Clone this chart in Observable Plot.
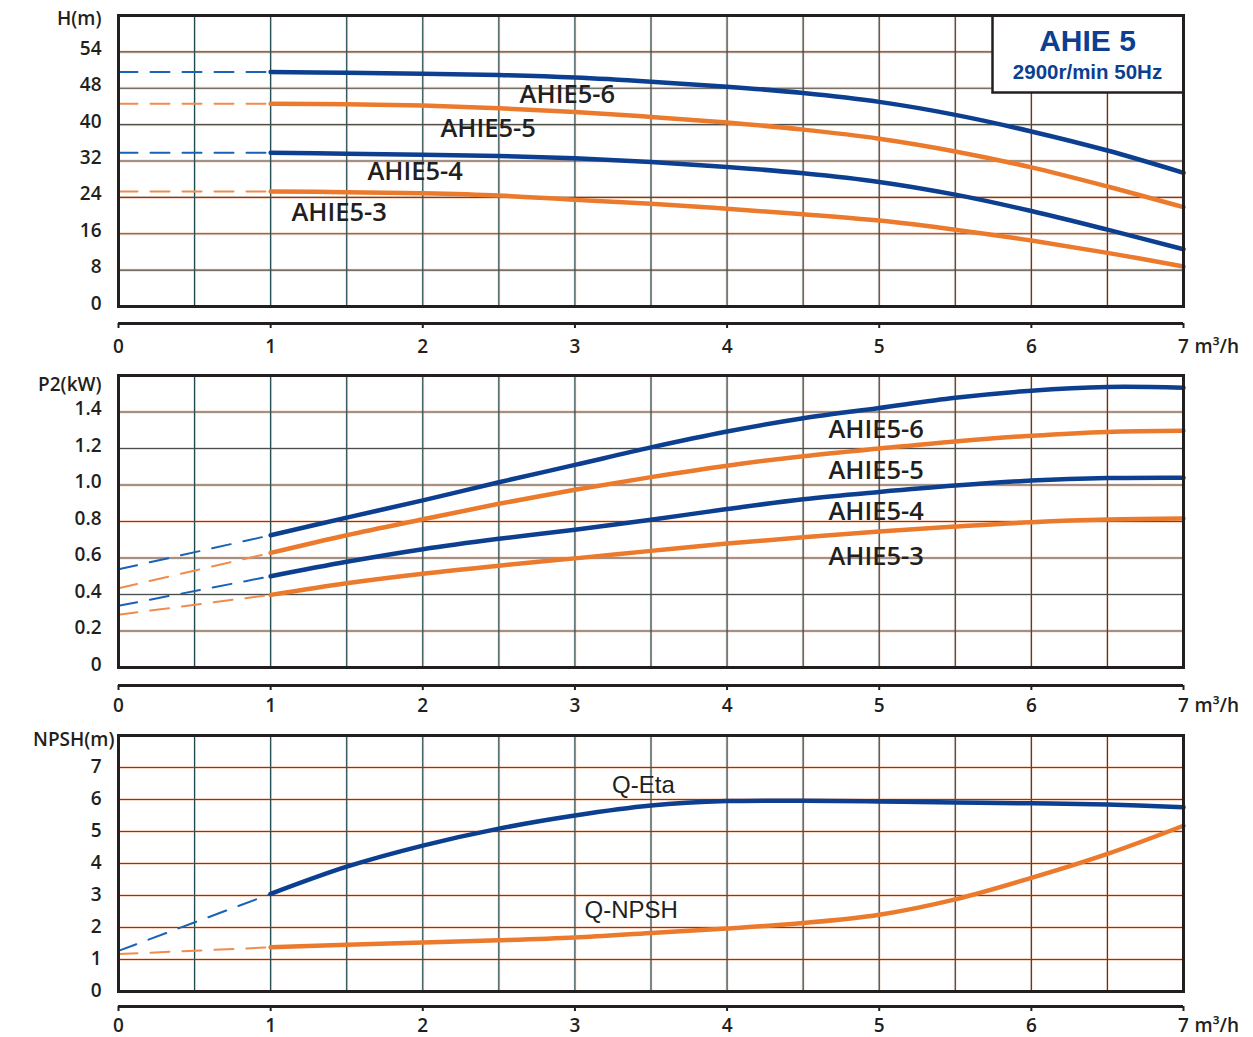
<!DOCTYPE html>
<html><head><meta charset="utf-8">
<script src="https://cdn.jsdelivr.net/npm/d3@7"></script>
<script src="https://cdn.jsdelivr.net/npm/@observablehq/plot@0.6"></script>
<style>
body{margin:0;background:#fff;}
#chart{width:1253px;height:1037px;position:relative;overflow:hidden;}
#chart svg{display:block;}
</style></head><body><div id="chart"></div>
<script>
// ---------- data ----------
const flow = [1, 1.5, 2, 2.5, 3, 3.5, 4, 4.5, 5, 5.5, 6, 6.5, 7];   // m³/h (solid part)
const flowDash = [0, 1];                                              // dashed extrapolation
const xTicks = [0, 1, 2, 3, 4, 5, 6, 7];
const xGrid = [0.5, 1, 1.5, 2, 2.5, 3, 3.5, 4, 4.5, 5, 5.5, 6, 6.5];

// Head H(m)
const headNames = ["AHIE5-6", "AHIE5-5", "AHIE5-4", "AHIE5-3"];
const headAtZero = [51.6, 44.6, 33.8, 25.3];
const head6 = [51.6, 51.4, 51.2, 50.9, 50.35, 49.45, 48.35, 46.95, 45.0, 42.15, 38.5, 34.3, 29.4];
const head5 = [44.6, 44.5, 44.2, 43.6, 42.8, 41.7, 40.45, 38.9, 36.9, 34.1, 30.6, 26.4, 21.85];
const head4 = [33.8, 33.6, 33.4, 33.1, 32.6, 31.8, 30.7, 29.3, 27.4, 24.6, 21.0, 16.9, 12.6];
const head3 = [25.3, 25.15, 24.9, 24.4, 23.45, 22.6, 21.5, 20.3, 18.9, 16.9, 14.5, 11.8, 8.8];
const headTicks = [0, 8, 16, 24, 32, 40, 48, 56];
const headTickLabels = ["0", "8", "16", "24", "32", "40", "48", "54"];
const headLabelX = [2.95, 2.43, 1.95, 1.45];
const headLabelY = [46.5, 39.0, 29.7, 20.5];

// Power P2(kW)
const powerAtZero = [0.538, 0.434, 0.338, 0.289];
const power6 = [0.725, 0.821, 0.916, 1.015, 1.11, 1.206, 1.293, 1.366, 1.422, 1.478, 1.517, 1.537, 1.533];
const power5 = [0.628, 0.725, 0.812, 0.897, 0.974, 1.043, 1.106, 1.158, 1.2, 1.239, 1.27, 1.291, 1.297];
const power4 = [0.5, 0.579, 0.648, 0.705, 0.755, 0.81, 0.868, 0.922, 0.962, 0.997, 1.024, 1.038, 1.04];
const power3 = [0.398, 0.462, 0.514, 0.558, 0.598, 0.639, 0.679, 0.714, 0.745, 0.772, 0.796, 0.811, 0.816];
const powerTicks = [0, 0.2, 0.4, 0.6, 0.8, 1.0, 1.2, 1.4];
const powerTickLabels = ["0", "0.2", "0.4", "0.6", "0.8", "1.0", "1.2", "1.4"];
const powerLabelX = [4.98, 4.98, 4.98, 4.98];
const powerLabelY = [1.304, 1.08, 0.855, 0.609];

// NPSH / Eta
const npshNames = ["Q-Eta", "Q-NPSH"];
const npshAtZero = [1.27, 1.17];
const eta = [3.05, 3.9, 4.56, 5.09, 5.5, 5.81, 5.95, 5.96, 5.94, 5.91, 5.88, 5.84, 5.76];
const npsh = [1.38, 1.46, 1.53, 1.6, 1.69, 1.83, 1.97, 2.14, 2.4, 2.88, 3.55, 4.3, 5.18];
const npshTicks = [0, 1, 2, 3, 4, 5, 6, 7];
const npshTickLabels = ["0", "1", "2", "3", "4", "5", "6", "7"];
const npshLabelX = [3.45, 3.37];
const npshLabelY = [6.44, 2.53];

// ---------- style ----------
const BLUE = "#0c3f90", ORANGE = "#ec7a2d";
const BLUE_D = "#1a62b3", ORANGE_D = "#f08c4e";
const INK = "#231f20";
const TICKFONT = "'Open Sans', sans-serif";
const ARIAL = "'Liberation Sans', Arial, sans-serif";

function panel(o) {
  const solid = [], dash = [];
  o.series.forEach((s, k) => {
    flow.forEach((x, i) => solid.push({x, y: s.values[i], k, c: s.color}));
    dash.push({x: flowDash[0], y: s.zero, k, c: s.dcolor});
    dash.push({x: flowDash[1], y: s.values[0], k, c: s.dcolor});
  });
  const lab = new Map(o.yTicks.map((t, i) => [t, o.yTickLabels[i]]));
  const yGrid = o.yTicks.filter(t => t > 0);
  const marks = [
    Plot.ruleX(xGrid, {stroke: "#f2a680", strokeWidth: 3, strokeOpacity: 0.3}),
    Plot.ruleY(yGrid, {stroke: "#f2a680", strokeWidth: 3, strokeOpacity: 0.45}),
    Plot.ruleX(xGrid, {stroke: "#1f4a50", strokeWidth: 1.2}),
    Plot.ruleY(yGrid, {stroke: "#4a4f4c", strokeWidth: 1.2}),
    Plot.line(dash, {x: "x", y: "y", z: "k", stroke: "c", strokeWidth: 2, strokeDasharray: "19 13"}),
    Plot.line(solid, {x: "x", y: "y", z: "k", stroke: "c", strokeWidth: 4.5, curve: "catmull-rom"}),
    ...(o.extra || []),
    Plot.text(o.labels, {x: "x", y: "y", text: "t", fill: INK, fontSize: o.labelSize, fontWeight: o.labelWeight, fontFamily: o.labelFont}),
    Plot.frame({stroke: INK, strokeWidth: 3}),
    Plot.ruleY([0], {dy: o.axisOffset, stroke: INK, strokeWidth: 3}),
    Plot.axisX(xTicks, {anchor: "bottom", dy: o.axisOffset, tickSize: 5, tickPadding: o.xPad, strokeWidth: 2,
      tickFormat: d => String(d),
      fontSize: 19, fontWeight: 600, fontFamily: TICKFONT, fill: INK, stroke: INK, label: null}),
    Plot.text(["m³/h"], {frameAnchor: "bottom-right", dx: 11, dy: o.axisOffset + 5 + o.xPad + 7, lineAnchor: "middle",
      textAnchor: "start", fontSize: 19, fontWeight: 600, fontFamily: TICKFONT, fill: INK}),
    Plot.axisY(o.yTicks, {anchor: "left", tickSize: 0, tickPadding: 17, dy: o.yLabelDy, tickFormat: d => lab.get(d),
      fontSize: 19, fontWeight: 600, fontFamily: TICKFONT, fill: INK, label: null}),
    Plot.text([o.yTitle], {frameAnchor: "top-left", dx: o.titleDx, dy: o.titleDy, textAnchor: "end", lineAnchor: "middle",
      fontSize: 19, fontWeight: 600, fontFamily: TICKFONT, fill: INK})
  ];
  return Plot.plot({
    width: 1253, height: o.height,
    marginLeft: 118, marginRight: 70, marginTop: o.marginTop, marginBottom: o.marginBottom,
    x: {domain: [0, 7], axis: null},
    y: {domain: [0, o.yMax], axis: null},
    style: {fontFamily: TICKFONT, color: INK, background: "#fff", overflow: "visible"},
    marks
  });
}

const root = document.getElementById("chart");

const headSeriesVals = [head6, head5, head4, head3];
const colorsSolid = [BLUE, ORANGE, BLUE, ORANGE];
const colorsDash = [BLUE_D, ORANGE_D, BLUE_D, ORANGE_D];

root.append(panel({
  height: 360, marginTop: 15, marginBottom: 54, yMax: 64,
  yTicks: headTicks, yTickLabels: headTickLabels, yTitle: "H(m)", titleDx: -17, titleDy: 3, yLabelDy: -3,
  axisOffset: 17, xPad: 11,
  series: headSeriesVals.map((v, i) => ({values: v, zero: headAtZero[i], color: colorsSolid[i], dcolor: colorsDash[i]})),
  labels: headNames.map((t, i) => ({t, x: headLabelX[i], y: headLabelY[i]})),
  labelSize: 25.5, labelWeight: 600, labelFont: TICKFONT,
  extra: [
    Plot.frame({fill: "#fff", stroke: INK, strokeWidth: 2.5, insetLeft: 874, insetBottom: 214}),
    Plot.text(["AHIE 5"], {frameAnchor: "top-right", dx: -96, dy: 26, textAnchor: "middle", lineAnchor: "middle",
      fontSize: 30, fontWeight: "bold", fontFamily: ARIAL, fill: BLUE}),
    Plot.text(["2900r/min 50Hz"], {frameAnchor: "top-right", dx: -96, dy: 57, textAnchor: "middle", lineAnchor: "middle",
      fontSize: 20.5, fontWeight: "bold", fontFamily: ARIAL, fill: BLUE})
  ]
}));

const powerSeriesVals = [power6, power5, power4, power3];
root.append(panel({
  height: 360, marginTop: 15, marginBottom: 53, yMax: 1.6,
  yTicks: powerTicks, yTickLabels: powerTickLabels, yTitle: "P2(kW)", titleDx: -17, titleDy: 9, yLabelDy: -3,
  axisOffset: 18, xPad: 8,
  series: powerSeriesVals.map((v, i) => ({values: v, zero: powerAtZero[i], color: colorsSolid[i], dcolor: colorsDash[i]})),
  labels: headNames.map((t, i) => ({t, x: powerLabelX[i], y: powerLabelY[i]})),
  labelSize: 25.5, labelWeight: 600, labelFont: TICKFONT
}));

const npshSeriesVals = [eta, npsh];
root.append(panel({
  height: 317, marginTop: 15, marginBottom: 46, yMax: 8,
  yTicks: npshTicks, yTickLabels: npshTickLabels, yTitle: "NPSH(m)", titleDx: -4, titleDy: 4, yLabelDy: -1,
  axisOffset: 15, xPad: 7,
  series: npshSeriesVals.map((v, i) => ({values: v, zero: npshAtZero[i], color: [BLUE, ORANGE][i], dcolor: [BLUE_D, ORANGE_D][i]})),
  labels: npshNames.map((t, i) => ({t, x: npshLabelX[i], y: npshLabelY[i]})),
  labelSize: 24, labelWeight: 400, labelFont: ARIAL
}));
</script></body></html>
